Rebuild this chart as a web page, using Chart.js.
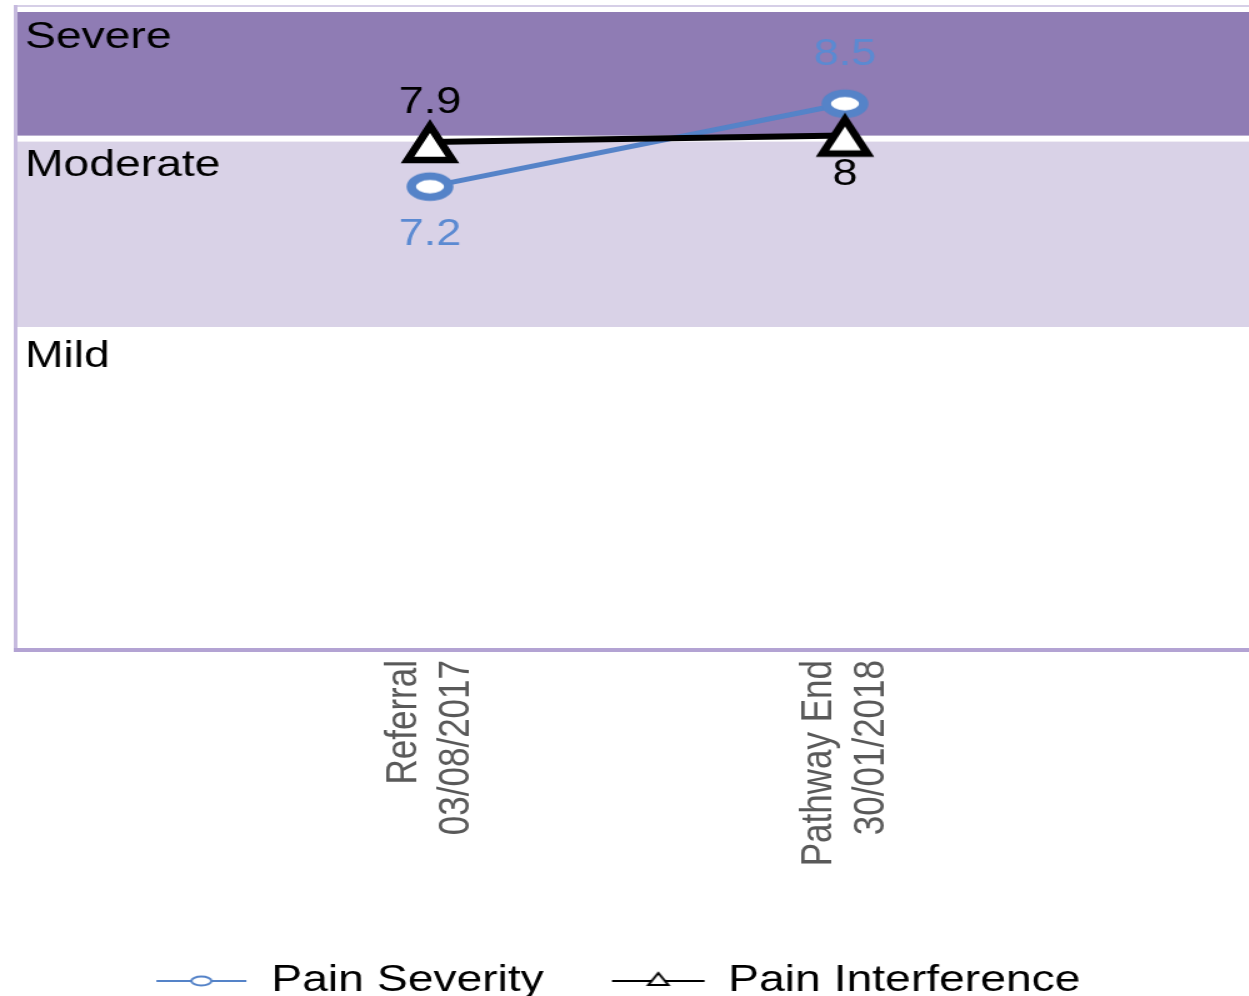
<!DOCTYPE html>
<html>
<head>
<meta charset="utf-8">
<script src="https://cdn.jsdelivr.net/npm/chart.js@4.4.1/dist/chart.umd.min.js"></script>
<style>
    html, body { margin: 0; padding: 0; background: #fff; overflow: hidden; }
    /* the reference is stretched sideways, so draw narrow and stretch */
    #wrap { width: 1012px; height: 996px; transform: scaleX(1.25); transform-origin: 0 0; }
</style>
</head>
<body>
<div id="wrap"><canvas id="painChart"></canvas></div>
<script>
// Data
const categories = [['Referral', '03/08/2017'], ['Pathway End', '30/01/2018']];
const painSeverity = [7.2, 8.5];
const painInterference = [7.9, 8];
const bandNames = ['Mild', 'Moderate', 'Severe'];
const bandLimits = [0, 5, 8, 10];

const FONT = '"Liberation Sans", Arial, sans-serif';
const BLUE = '#5583c8';

// pad with an empty slot each side so the two points sit where the reference has them
const labels = [''].concat(categories, ['']);
const padded = (arr) => [null].concat(arr, [null]);

// Marker images (ellipse and triangle)
function makeCircle(w, h, rx, ry, lw, lineLen) {
    const c = document.createElement('canvas');
    c.width = w; c.height = h;
    const g = c.getContext('2d');
    if (lineLen) {
        g.strokeStyle = BLUE; g.lineWidth = 2;
        g.beginPath(); g.moveTo((w - lineLen) / 2, h / 2); g.lineTo((w + lineLen) / 2, h / 2); g.stroke();
    }
    g.beginPath();
    g.ellipse(w / 2, h / 2, rx, ry, 0, 0, Math.PI * 2);
    g.fillStyle = '#fff'; g.fill();
    g.strokeStyle = BLUE; g.lineWidth = lw; g.stroke();
    return c;
}

function makeTriangle(w, h, hw, top, bottom, lw, lineLen) {
    const c = document.createElement('canvas');
    c.width = w; c.height = h;
    const g = c.getContext('2d');
    const cx = w / 2, cy = h / 2;
    if (lineLen) {
        g.strokeStyle = '#000'; g.lineWidth = 2;
        g.beginPath(); g.moveTo(cx - lineLen / 2, cy); g.lineTo(cx + lineLen / 2, cy); g.stroke();
    }
    g.beginPath();
    g.moveTo(cx, cy - top);
    g.lineTo(cx + hw, cy + bottom);
    g.lineTo(cx - hw, cy + bottom);
    g.closePath();
    g.fillStyle = '#fff'; g.fill();
    g.lineJoin = 'miter';
    g.strokeStyle = '#000'; g.lineWidth = lw; g.stroke();
    return c;
}

const circleMark = makeCircle(44, 32, 15, 10.5, 7.5);
const triangleMark = makeTriangle(54, 50, 18, 16, 18, 6.5);
const circleLegend = makeCircle(76, 16, 8, 4.5, 2, 72);
const triangleLegend = makeTriangle(78, 20, 8, 8, 4, 2, 74);

// Background bands, border and band names
const bands = {
    id: 'bands',
    beforeDatasetsDraw(chart) {
        const { ctx, chartArea: a, scales: { y } } = chart;
        ctx.save();
        ctx.fillStyle = '#8f7cb4';
        ctx.fillRect(a.left, y.getPixelForValue(bandLimits[3]) + 4, a.right - a.left,
            y.getPixelForValue(bandLimits[2]) - y.getPixelForValue(bandLimits[3]) - 4);
        ctx.fillStyle = '#d9d2e7';
        ctx.fillRect(a.left, y.getPixelForValue(bandLimits[2]) + 6, a.right - a.left,
            y.getPixelForValue(bandLimits[1]) - y.getPixelForValue(bandLimits[2]) - 6);

        // frame
        ctx.fillStyle = '#d6cfe7';
        ctx.fillRect(a.left - 1, a.top - 3, a.right - a.left, 2);
        ctx.fillStyle = '#c6bade';
        ctx.fillRect(a.left - 1, a.top - 3, 3, a.bottom - a.top + 9);
        ctx.fillStyle = '#b3a3d3';
        ctx.fillRect(a.left - 1, a.bottom + 2, a.right - a.left + 1, 4);

        ctx.fillStyle = '#000';
        ctx.font = '37px ' + FONT;
        ctx.textAlign = 'left';
        ctx.textBaseline = 'alphabetic';
        bandNames.forEach((name, i) => {
            ctx.fillText(name, a.left + 8, y.getPixelForValue(bandLimits[i + 1]) + 40);
        });
        ctx.restore();
    }
};

// Value labels: the higher series gets its label above, the lower one below
const valueLabels = {
    id: 'valueLabels',
    afterDatasetsDraw(chart) {
        const ctx = chart.ctx;
        ctx.save();
        ctx.font = '36px ' + FONT;
        ctx.textAlign = 'center';
        ctx.textBaseline = 'alphabetic';
        chart.data.datasets.forEach((ds, di) => {
            const meta = chart.getDatasetMeta(di);
            meta.data.forEach((pt, i) => {
                const v = ds.data[i];
                if (v === null) return;
                const others = chart.data.datasets.filter((o, oi) => oi !== di).map(o => o.data[i]);
                const isTop = others.every(o => o === null || v >= o);
                ctx.fillStyle = ds.labelColor;
                ctx.fillText(String(v), pt.x, pt.y + (isTop ? ds.labelAbove : ds.labelBelow));
            });
        });
        ctx.restore();
    }
};

// nudge the legend left to line up with the reference
const legendShift = {
    id: 'legendShift',
    afterLayout(chart) {
        chart.legend.left -= 16;
        chart.legend.right -= 16;
    }
};

new Chart(document.getElementById('painChart'), {
    type: 'line',
    data: {
        labels: labels,
        datasets: [{
            label: 'Pain Severity',
            data: padded(painSeverity),
            borderColor: BLUE,
            borderWidth: 5,
            pointStyle: circleMark,
            pointRadius: 12,
            tension: 0,
            order: 1,
            labelColor: '#5b8ad2',
            labelAbove: -39,
            labelBelow: 58
        }, {
            label: 'Pain Interference',
            data: padded(painInterference),
            borderColor: '#000',
            borderWidth: 6,
            pointStyle: triangleMark,
            pointRadius: 12,
            tension: 0,
            order: 0,
            labelColor: '#000',
            labelAbove: -29,
            labelBelow: 49
        }]
    },
    options: {
        responsive: true,
        maintainAspectRatio: false,
        animation: false,
        layout: { autoPadding: false, padding: { top: 8, left: 12, right: 4, bottom: 0 } },
        scales: {
            x: {
                offset: false,
                grid: { display: false, drawTicks: false },
                border: { display: false },
                ticks: {
                    minRotation: 90,
                    maxRotation: 90,
                    autoSkip: false,
                    padding: 14,
                    labelOffset: -21,
                    color: '#595959',
                    font: { family: FONT, size: 35, lineHeight: 1.2 }
                },
                afterFit(scale) {
                    scale.height = 262.5;
                    scale.paddingLeft = 0;
                    scale.paddingRight = 0;
                    scale.paddingTop = 0;
                    scale.paddingBottom = 0;
                }
            },
            y: {
                display: false,
                min: 0,
                max: 10
            }
        },
        plugins: {
            tooltip: { enabled: false },
            legend: {
                position: 'bottom',
                maxHeight: 87.5,
                labels: {
                    usePointStyle: true,
                    pointStyleWidth: 75,
                    padding: 54,
                    color: '#5f5f5f',
                    font: { family: FONT, size: 37 },
                    generateLabels: () => [
                        { text: 'Pain Severity', pointStyle: circleLegend, fillStyle: 'transparent', strokeStyle: 'transparent', lineWidth: 0, datasetIndex: 0 },
                        { text: 'Pain Interference', pointStyle: triangleLegend, fillStyle: 'transparent', strokeStyle: 'transparent', lineWidth: 0, datasetIndex: 1 }
                    ]
                }
            }
        }
    },
    plugins: [bands, valueLabels, legendShift]
});
</script>
</body>
</html>
